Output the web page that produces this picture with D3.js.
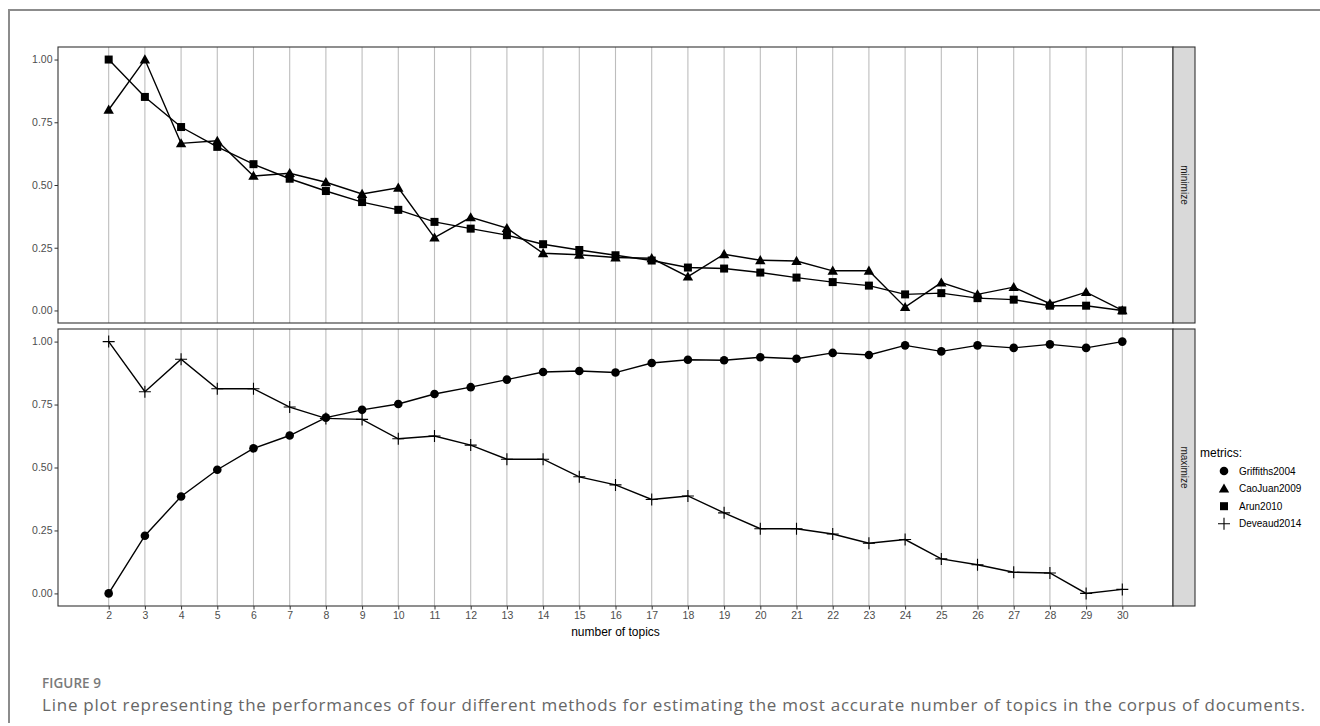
<!DOCTYPE html>
<html>
<head>
<meta charset="utf-8">
<script src="https://cdn.jsdelivr.net/npm/d3@7"></script>
<style>
  html, body { margin: 0; padding: 0; background: #fff; }
  svg { display: block; }
</style>
</head>
<body>
<svg id="chart" width="1320" height="726"></svg>
<script>
// number of topics evaluated
const topics = [2,3,4,5,6,7,8,9,10,11,12,13,14,15,16,17,18,19,20,21,22,23,24,25,26,27,28,29,30];

// normalised metric scores (minimize panel)
const caoJuan2009 = [0.80,1.00,0.666,0.676,0.536,0.547,0.511,0.464,0.489,0.290,0.371,0.328,0.228,0.222,0.211,0.208,0.135,0.224,0.200,0.197,0.158,0.158,0.013,0.111,0.064,0.093,0.027,0.073,0.00];
const arun2010 = [1.00,0.851,0.731,0.652,0.583,0.525,0.476,0.432,0.401,0.353,0.326,0.300,0.264,0.241,0.220,0.199,0.171,0.167,0.151,0.131,0.113,0.099,0.064,0.069,0.049,0.043,0.019,0.019,0.00];

// normalised metric scores (maximize panel)
const griffiths2004 = [0.00,0.229,0.385,0.491,0.576,0.627,0.698,0.729,0.752,0.792,0.819,0.849,0.879,0.883,0.877,0.915,0.928,0.926,0.938,0.932,0.955,0.947,0.985,0.961,0.985,0.975,0.989,0.975,1.00];
const deveaud2014 = [1.00,0.801,0.930,0.813,0.813,0.740,0.695,0.691,0.614,0.625,0.589,0.533,0.533,0.463,0.431,0.373,0.387,0.320,0.257,0.257,0.236,0.199,0.214,0.137,0.114,0.084,0.081,0.00,0.016];

const yTicks = [0, 0.25, 0.5, 0.75, 1.0];
const legendNames = ["Griffiths2004", "CaoJuan2009", "Arun2010", "Deveaud2014"];
const panelNames = ["minimize", "maximize"];

const series = {
  Griffiths2004: griffiths2004,
  CaoJuan2009: caoJuan2009,
  Arun2010: arun2010,
  Deveaud2014: deveaud2014
};
const panelSeries = {
  minimize: ["CaoJuan2009", "Arun2010"],
  maximize: ["Griffiths2004", "Deveaud2014"]
};

const svg = d3.select("#chart");
const font = "'Liberation Sans', Arial, sans-serif";

// outer figure frame (top and left rules)
svg.append("path")
  .attr("d", "M9,723 V10 H1320")
  .attr("fill", "none").attr("stroke", "#8c8c8c").attr("stroke-width", 2);

const left = 58, right = 1173, stripW = 22;
const panels = [
  { name: "minimize", top: 47, bottom: 323 },
  { name: "maximize", top: 329, bottom: 606 }
];

const x = d3.scaleLinear()
  .domain([topics[0] - 0.05 * (topics[topics.length-1] - topics[0]),
           topics[topics.length-1] + 0.05 * (topics[topics.length-1] - topics[0])])
  .range([left, right]);

// marker shapes
function drawShape(g, name, cx, cy) {
  if (name === "Griffiths2004") {
    g.append("circle").attr("cx", cx).attr("cy", cy).attr("r", 4.3).attr("fill", "#000");
  } else if (name === "CaoJuan2009") {
    const s = 5.2;
    g.append("path")
      .attr("d", `M${cx},${cy - s} L${cx + s*1.0},${cy + s*0.75} L${cx - s*1.0},${cy + s*0.75} Z`)
      .attr("fill", "#000");
  } else if (name === "Arun2010") {
    g.append("rect").attr("x", cx - 4).attr("y", cy - 4).attr("width", 8).attr("height", 8).attr("fill", "#000");
  } else {
    g.append("path")
      .attr("d", `M${cx - 6},${cy} H${cx + 6} M${cx},${cy - 6} V${cy + 6}`)
      .attr("stroke", "#000").attr("stroke-width", 1.1).attr("fill", "none");
  }
}

panels.forEach(p => {
  const y = d3.scaleLinear().domain([-0.05, 1.05]).range([p.bottom, p.top]);
  const g = svg.append("g");

  // background + vertical grid
  g.append("rect").attr("x", left).attr("y", p.top).attr("width", right - left).attr("height", p.bottom - p.top).attr("fill", "#fff");
  g.selectAll("line.grid").data(topics).enter().append("line")
    .attr("x1", d => x(d)).attr("x2", d => x(d))
    .attr("y1", p.top).attr("y2", p.bottom)
    .attr("stroke", "#bdbdbd").attr("stroke-width", 1.1);

  // y axis
  const yAxis = g.append("g").attr("transform", `translate(${left},0)`)
    .call(d3.axisLeft(y).tickValues(yTicks).tickFormat(d3.format(".2f")).tickSize(3.5).tickPadding(2));
  yAxis.select(".domain").remove();
  yAxis.selectAll("line").attr("stroke", "#333");
  yAxis.selectAll("text").attr("fill", "#4d4d4d").style("font-family", font).style("font-size", "10.5px");

  // lines + points
  panelSeries[p.name].forEach(name => {
    const vals = series[name];
    const line = d3.line().x((d, i) => x(topics[i])).y(d => y(d));
    g.append("path").datum(vals).attr("d", line)
      .attr("fill", "none").attr("stroke", "#000").attr("stroke-width", 1.4);
  });
  panelSeries[p.name].forEach(name => {
    series[name].forEach((v, i) => drawShape(g, name, x(topics[i]), y(v)));
  });

  // panel border
  g.append("rect").attr("x", left).attr("y", p.top).attr("width", right - left).attr("height", p.bottom - p.top)
    .attr("fill", "none").attr("stroke", "#333").attr("stroke-width", 1.1);

  // facet strip
  g.append("rect").attr("x", right).attr("y", p.top).attr("width", stripW).attr("height", p.bottom - p.top)
    .attr("fill", "#d9d9d9").attr("stroke", "#333").attr("stroke-width", 1.1);
  const sx = right + stripW / 2, sy = (p.top + p.bottom) / 2;
  g.append("text").attr("transform", `translate(${sx},${sy}) rotate(90)`)
    .attr("text-anchor", "middle").attr("dy", "0.35em")
    .attr("fill", "#1a1a1a").style("font-family", font).style("font-size", "10px")
    .text(p.name);

  // x axis only under the last panel
  if (p.name === "maximize") {
    const xAxis = g.append("g").attr("transform", `translate(0,${p.bottom})`)
      .call(d3.axisBottom(x).tickValues(topics).tickFormat(d3.format("d")).tickSize(3.5).tickPadding(2));
    xAxis.select(".domain").remove();
    xAxis.selectAll("line").attr("stroke", "#333");
    xAxis.selectAll("text").attr("fill", "#4d4d4d").style("font-family", font).style("font-size", "10.5px");
  }
});

// x axis title
svg.append("text").attr("x", (left + right) / 2).attr("y", 636)
  .attr("text-anchor", "middle").attr("fill", "#000")
  .style("font-family", font).style("font-size", "12px")
  .text("number of topics");

// legend
const legend = svg.append("g");
legend.append("text").attr("x", 1200).attr("y", 457).attr("fill", "#000")
  .style("font-family", font).style("font-size", "12px").text("metrics:");
legendNames.forEach((name, i) => {
  const cy = 471 + i * 17.6;
  drawShape(legend, name, 1224, cy);
  legend.append("text").attr("x", 1239).attr("y", cy).attr("dy", "0.35em")
    .attr("fill", "#000").style("font-family", font).style("font-size", "10px").text(name);
});

// caption
svg.append("text").attr("x", 42).attr("y", 688).attr("fill", "#7a7a7a")
  .attr("textLength", 59).attr("lengthAdjust", "spacing")
  .style("font-family", "'Open Sans', sans-serif").style("font-size", "13.5px").style("font-weight", "600")
  .text("FIGURE 9");
svg.append("text").attr("x", 42).attr("y", 711).attr("fill", "#666")
  .attr("textLength", 1263).attr("lengthAdjust", "spacing")
  .style("font-family", "'Open Sans', sans-serif").style("font-size", "17px")
  .text("Line plot representing the performances of four different methods for estimating the most accurate number of topics in the corpus of documents.");
</script>
</body>
</html>
